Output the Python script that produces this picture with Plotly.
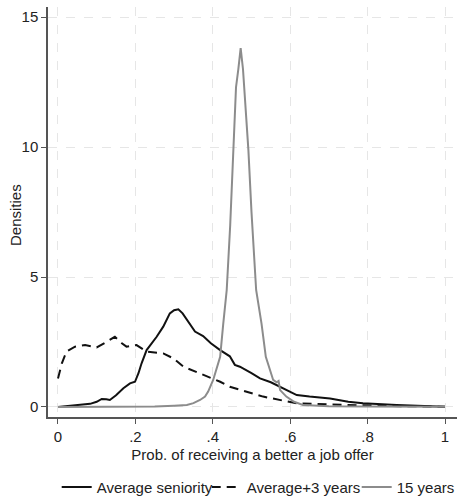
import plotly.graph_objects as go

# Average seniority (solid black)
avg_x = [0, 0.04, 0.083, 0.1, 0.113, 0.125, 0.134, 0.15, 0.169, 0.186, 0.199, 0.208, 0.216, 0.229,
         0.255, 0.272, 0.289, 0.3, 0.311, 0.322, 0.333, 0.354, 0.375, 0.395, 0.419, 0.444, 0.457,
         0.47, 0.5, 0.522, 0.55, 0.574, 0.6, 0.617, 0.65, 0.703, 0.75, 0.788, 0.875, 0.95, 1.0]
avg_y = [0.0, 0.05, 0.12, 0.2, 0.31, 0.3, 0.27, 0.45, 0.72, 0.91, 0.97, 1.3, 1.68, 2.19,
         2.7, 3.09, 3.6, 3.72, 3.76, 3.6, 3.35, 2.9, 2.73, 2.45, 2.19, 1.95, 1.62,
         1.55, 1.3, 1.1, 0.95, 0.78, 0.6, 0.46, 0.4, 0.33, 0.2, 0.14, 0.08, 0.04, 0.01]

# Average + 3 years (dashed black)
p3_x = [0, 0.01, 0.022, 0.044, 0.07, 0.1, 0.126, 0.147, 0.165, 0.177, 0.203, 0.229, 0.272, 0.298,
        0.324, 0.367, 0.419, 0.444, 0.5, 0.53, 0.58, 0.617, 0.7, 0.746, 0.85, 1.0]
p3_y = [1.1, 1.68, 2.13, 2.32, 2.38, 2.29, 2.51, 2.7, 2.45, 2.32, 2.38, 2.13, 2.06, 1.87,
        1.55, 1.29, 0.97, 0.78, 0.55, 0.4, 0.25, 0.14, 0.1, 0.08, 0.04, 0.01]

# 15 years (gray)
y15_x = [0, 0.1, 0.2, 0.25, 0.3, 0.333, 0.35, 0.367, 0.38, 0.388, 0.401, 0.41, 0.419, 0.427, 0.436,
         0.445, 0.453, 0.46, 0.466, 0.472, 0.478, 0.485, 0.492, 0.5, 0.512, 0.526, 0.537, 0.556,
         0.565, 0.57, 0.574, 0.59, 0.61, 0.633, 0.7, 0.8, 0.9, 1.0]
y15_y = [0.0, 0.0, 0.01, 0.02, 0.05, 0.08, 0.15, 0.27, 0.4, 0.59, 1.04, 1.5, 1.93, 3.2, 4.5,
         7.0, 9.88, 12.3, 13.0, 13.8, 13.0, 11.5, 9.88, 7.5, 4.5, 3.2, 1.93, 1.04,
         0.95, 1.0, 0.65, 0.4, 0.2, 0.08, 0.03, 0.02, 0.01, 0.01]

x_ticks = [0, 0.2, 0.4, 0.6, 0.8, 1]
x_labels = ["0", ".2", ".4", ".6", ".8", "1"]
y_ticks = [0, 5, 10, 15]

fig = go.Figure()
fig.add_trace(go.Scatter(x=avg_x, y=avg_y, mode="lines", name="Average seniority",
                         line=dict(color="#111111", width=2), legend="legend"))
fig.add_trace(go.Scatter(x=p3_x, y=p3_y, mode="lines", name="Average+3 years",
                         line=dict(color="#111111", width=2, dash="9px,6px"), legend="legend2"))
fig.add_trace(go.Scatter(x=y15_x, y=y15_y, mode="lines", name="15 years",
                         line=dict(color="#8c8c8c", width=2), legend="legend3"))

font = dict(family="Liberation Sans, Arial, sans-serif", size=15, color="#222222")


def leg(xpx):
    return dict(orientation="h", x=xpx / 457, xref="container", xanchor="left",
                y=-0.131, yanchor="top", font=font,
                bgcolor="rgba(0,0,0,0)", borderwidth=0)


fig.update_layout(
    width=457, height=501,
    margin=dict(l=48, r=0, t=7, b=84, autoexpand=False),
    paper_bgcolor="white", plot_bgcolor="white",
    font=font,
    showlegend=True,
    legend=leg(56.7),
    legend2=leg(206.7),
    legend3=leg(356.7),
    xaxis=dict(range=[-0.0258, 1.031], tickvals=x_ticks, ticktext=x_labels,
               showgrid=True, gridcolor="#e6e6e6", griddash="dash", gridwidth=1,
               zeroline=False, showline=True, linecolor="#555555", linewidth=1.5,
               ticks="outside", ticklen=5, tickcolor="#555555",
               title=dict(text="Prob. of receiving a better a job offer", standoff=6, font=font)),
    yaxis=dict(range=[-0.385, 15.385], tickvals=y_ticks,
               showgrid=True, gridcolor="#e6e6e6", griddash="dash", gridwidth=1,
               zeroline=False, showline=True, linecolor="#555555", linewidth=1.5,
               ticks="outside", ticklen=5, tickcolor="#555555"),
    annotations=[dict(text="Densities", textangle=-90, xref="paper", yref="paper",
                      x=(15 - 48) / 409, y=(417 - 215) / 410, xanchor="center", yanchor="middle",
                      showarrow=False, font=font)],
)

fig.write_html("out.html")
